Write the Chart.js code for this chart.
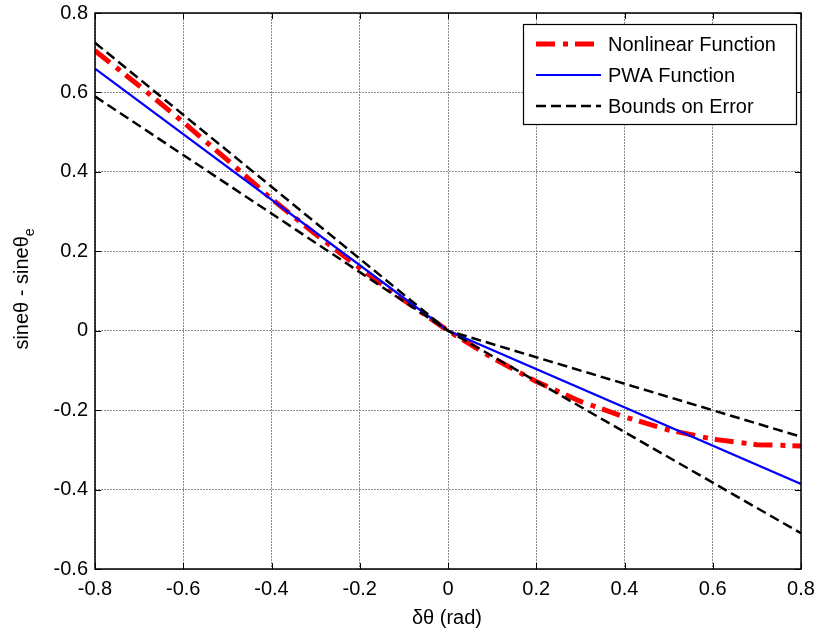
<!DOCTYPE html>
<html>
<head>
<meta charset="utf-8">
<script src="https://cdn.jsdelivr.net/npm/chart.js@4.4.1/dist/chart.umd.min.js"></script>
<style>
  body { margin: 0; background: #fff; }
  #wrap { width: 820px; height: 632px; }
</style>
</head>
<body>
<div id="wrap"><canvas id="errChart" width="820" height="632"></canvas></div>
<script>
// values
const deltaX = [-0.8, -0.7, -0.6, -0.5, -0.4, -0.3, -0.2, -0.1, 0, 0.1, 0.2, 0.3, 0.4, 0.5, 0.6, 0.7, 0.8];
const nonlinearY = [0.705, 0.617, 0.525, 0.43, 0.332, 0.243, 0.158, 0.077, 0, -0.068, -0.128, -0.178, -0.217, -0.25, -0.273, -0.287, -0.29];

const pwaX = [-0.8, 0, 0.8];
const pwaY = [0.66, 0, -0.386];

const boundX = [-0.8, 0, 0.8];
const upperBoundY = [0.725, 0, -0.267];
const lowerBoundY = [0.59, 0, -0.51];

const xTicks = [-0.8, -0.6, -0.4, -0.2, 0, 0.2, 0.4, 0.6, 0.8];
const yTicks = [-0.6, -0.4, -0.2, 0, 0.2, 0.4, 0.6, 0.8];

const legendLabels = ['Nonlinear Function', 'PWA Function', 'Bounds on Error'];
const xTitle = '\u03B4\u03B8 (rad)';
const yTitle = 'sine\u03B8 - sine\u03B8';
const yTitleSub = 'e';

const FONT = '"Liberation Sans", Arial, sans-serif';

function pts(xs, ys) {
    return xs.map((x, i) => ({ x: x, y: ys[i] }));
}

const redDash = [19, 8, 5, 7];
const blackDash = [10, 5];

// MATLAB-like frame: box, inward ticks, legend, axis titles
const frame = {
    id: 'frame',
    afterDraw(chart) {
        const ctx = chart.ctx;
        const a = chart.chartArea;
        const xs = chart.scales.x, ys = chart.scales.y;
        ctx.save();
        ctx.strokeStyle = '#000';
        ctx.setLineDash([]);
        ctx.lineWidth = 1.5;
        ctx.strokeRect(a.left, a.top, a.right - a.left, a.bottom - a.top);

        // inward ticks
        ctx.lineWidth = 1;
        ctx.beginPath();
        xTicks.forEach(v => {
            const px = Math.round(xs.getPixelForValue(v)) + 0.5;
            ctx.moveTo(px, a.bottom); ctx.lineTo(px, a.bottom - 6);
            ctx.moveTo(px, a.top); ctx.lineTo(px, a.top + 6);
        });
        yTicks.forEach(v => {
            const py = Math.round(ys.getPixelForValue(v)) + 0.5;
            ctx.moveTo(a.left, py); ctx.lineTo(a.left + 6, py);
            ctx.moveTo(a.right, py); ctx.lineTo(a.right - 6, py);
        });
        ctx.stroke();

        // legend
        const lx = 523, ly = 24, lw = 273, lh = 100;
        ctx.fillStyle = '#fff';
        ctx.fillRect(lx, ly, lw, lh);
        ctx.lineWidth = 1.2;
        ctx.strokeStyle = '#000';
        ctx.strokeRect(lx + 0.5, ly + 0.5, lw, lh);
        const rows = [44, 75, 106];
        const styles = [
            { color: '#ff0000', width: 5, dash: redDash },
            { color: '#0000ff', width: 2.2, dash: [] },
            { color: '#000000', width: 2.5, dash: blackDash }
        ];
        ctx.font = '20px ' + FONT;
        ctx.textBaseline = 'middle';
        ctx.textAlign = 'left';
        rows.forEach((y, i) => {
            ctx.strokeStyle = styles[i].color;
            ctx.lineWidth = styles[i].width;
            ctx.setLineDash(styles[i].dash);
            ctx.beginPath();
            ctx.moveTo(536, y); ctx.lineTo(601, y);
            ctx.stroke();
            ctx.setLineDash([]);
            ctx.fillStyle = '#000';
            ctx.fillText(legendLabels[i], 608, y + 1);
        });

        // x title
        ctx.textAlign = 'center';
        ctx.fillText(xTitle, 447, 618);

        // y title with subscript
        ctx.translate(28, 289);
        ctx.rotate(-Math.PI / 2);
        ctx.textBaseline = 'alphabetic';
        ctx.textAlign = 'left';
        ctx.font = '20px ' + FONT;
        const w1 = ctx.measureText(yTitle).width;
        ctx.font = '14px ' + FONT;
        const w2 = ctx.measureText(yTitleSub).width;
        const x0 = -(w1 + w2) / 2;
        ctx.font = '20px ' + FONT;
        ctx.fillText(yTitle, x0, 0);
        ctx.font = '14px ' + FONT;
        ctx.fillText(yTitleSub, x0 + w1, 6);
        ctx.restore();
    }
};

const ctx = document.getElementById('errChart').getContext('2d');

const data = {
    datasets: [
        {
            label: legendLabels[2],
            data: pts(boundX, upperBoundY),
            borderColor: '#000000',
            borderWidth: 2.5,
            borderDash: blackDash,
            order: 1
        },
        {
            label: legendLabels[2] + ' (lower)',
            data: pts(boundX, lowerBoundY),
            borderColor: '#000000',
            borderWidth: 2.5,
            borderDash: blackDash,
            order: 2
        },
        {
            label: legendLabels[1],
            data: pts(pwaX, pwaY),
            borderColor: '#0000ff',
            borderWidth: 2.2,
            order: 3
        },
        {
            label: legendLabels[0],
            data: pts(deltaX, nonlinearY),
            borderColor: '#ff0000',
            borderWidth: 5,
            borderDash: redDash,
            order: 4
        }
    ]
};

const gridStyle = {
    color: '#8a8a8a',
    lineWidth: 1,
    drawTicks: false
};

const config = {
    type: 'line',
    data: data,
    options: {
        responsive: false,
        animation: false,
        layout: { padding: { top: 13, right: 19, left: 0, bottom: 0 } },
        elements: {
            point: { radius: 0 },
            line: { tension: 0, fill: false }
        },
        scales: {
            x: {
                type: 'linear',
                min: -0.8,
                max: 0.8,
                afterBuildTicks: s => { s.ticks = xTicks.map(v => ({ value: v })); },
                afterFit: s => { s.height = 63; s.paddingLeft = 0; s.paddingRight = 0; },
                grid: gridStyle,
                border: { display: false, dash: [2, 1] },
                ticks: {
                    color: '#000',
                    padding: 8,
                    maxRotation: 0,
                    font: { family: FONT, size: 20 },
                    callback: v => String(Math.round(v * 10) / 10)
                }
            },
            y: {
                type: 'linear',
                min: -0.6,
                max: 0.8,
                afterBuildTicks: s => { s.ticks = yTicks.map(v => ({ value: v })); },
                afterFit: s => { s.width = 95; s.paddingTop = 0; s.paddingBottom = 0; },
                grid: gridStyle,
                border: { display: false, dash: [2, 1] },
                ticks: {
                    color: '#000',
                    padding: 7,
                    font: { family: FONT, size: 20 },
                    callback: v => String(Math.round(v * 10) / 10)
                }
            }
        },
        plugins: {
            legend: { display: false },
            tooltip: { enabled: false },
            title: { display: false }
        }
    },
    plugins: [frame]
};

const errChart = new Chart(ctx, config);
</script>
</body>
</html>
